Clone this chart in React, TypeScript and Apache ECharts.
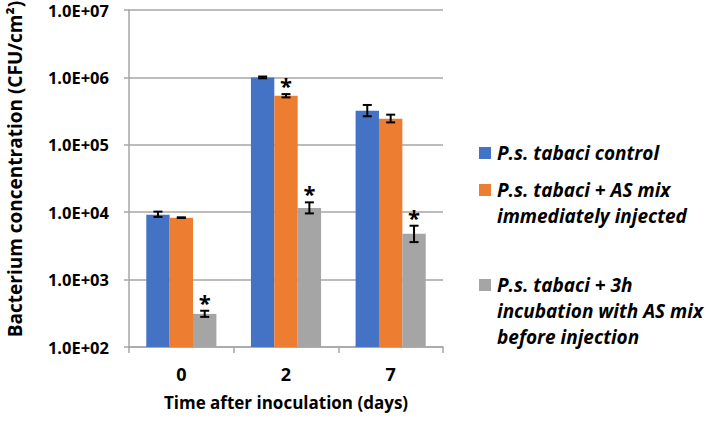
import React, { useEffect, useRef } from "react";
import * as echarts from "echarts";

const categories = ["0", "2", "7"];
const seriesNames = [
  "P.s. tabaci control",
  "P.s. tabaci + AS mix\nimmediately injected",
  "P.s. tabaci + 3h\nincubation with AS mix\nbefore injection",
];
const seriesColors = ["#4472C4", "#ED7D31", "#A5A5A5"];
const yAxisTitle = "Bacterium concentration (CFU/cm²)";
const xAxisTitle = "Time after inoculation (days)";

const controlValues = [9200, 1000000, 320000];
const controlLow = [8500, 970000, 265000];
const controlHigh = [10200, 1030000, 390000];
const controlStar = [0, 0, 0];

const asMixValues = [8300, 535000, 244000];
const asMixLow = [8200, 505000, 215000];
const asMixHigh = [8400, 565000, 280000];
const asMixStar = [0, 1, 0];

const incubValues = [310, 11500, 4800];
const incubLow = [280, 9600, 3600];
const incubHigh = [345, 14000, 6300];
const incubStar = [1, 1, 1];

const FONT = "Open Sans";

export default function App() {
  const ref = useRef<HTMLDivElement>(null);
  useEffect(() => {
    if (!ref.current) return;
    const chart = echarts.init(ref.current, undefined, { renderer: "svg" });
    const values = [controlValues, asMixValues, incubValues];
    const lows = [controlLow, asMixLow, incubLow];
    const highs = [controlHigh, asMixHigh, incubHigh];
    const stars = [controlStar, asMixStar, incubStar];
    const errData: number[][] = [];
    for (let s = 0; s < 3; s++) {
      for (let c = 0; c < categories.length; c++) {
        errData.push([c, s, lows[s][c], highs[s][c], stars[s][c]]);
      }
    }
    const gapFrac = 0.33;
    const legendX = 479;
    const legendTextX = 497;
    const lineH = 26;
    const legendStarts = [153, 190, 285];
    const graphics: any[] = [
      {
        type: "text",
        x: 15,
        y: 169,
        rotation: Math.PI / 2,
        style: {
          text: yAxisTitle,
          fontFamily: FONT,
          fontSize: 19,
          fontWeight: "bold",
          fill: "#000",
          align: "center",
          verticalAlign: "middle",
        },
      },
    ];
    seriesNames.forEach((name, i) => {
      const y0 = legendStarts[i];
      graphics.push({
        type: "rect",
        shape: { x: legendX, y: y0 - 6, width: 12, height: 12 },
        style: { fill: seriesColors[i] },
      });
      graphics.push({
        type: "text",
        x: legendTextX,
        y: y0 - lineH / 2,
        style: {
          text: name,
          fontFamily: FONT,
          fontSize: 19,
          fontWeight: "bold",
          fontStyle: "italic",
          fill: "#000",
          lineHeight: lineH,
          verticalAlign: "top",
          align: "left",
        },
      });
    });

    chart.setOption({
      animation: false,
      grid: { left: 129, right: 266, top: 10, bottom: 74 },
      xAxis: {
        type: "category",
        data: categories,
        name: xAxisTitle,
        nameLocation: "middle",
        nameGap: 47,
        nameTextStyle: { fontFamily: FONT, fontSize: 17, fontWeight: "bold", color: "#000" },
        axisLine: { lineStyle: { color: "#A6A6A6", width: 1.5 } },
        axisTick: { show: true, length: 6, lineStyle: { color: "#A6A6A6", width: 1.5 } },
        axisLabel: { fontFamily: FONT, fontSize: 18, fontWeight: "bold", color: "#000", margin: 18 },
      },
      yAxis: {
        type: "log",
        logBase: 10,
        min: 100,
        max: 10000000,
        axisLine: { show: true, lineStyle: { color: "#A6A6A6", width: 1.5 } },
        axisTick: { show: true, length: 5, lineStyle: { color: "#A6A6A6", width: 1.5 } },
        splitLine: { show: true, lineStyle: { color: "#A6A6A6", width: 1.5 } },
        minorTick: { show: false },
        axisLabel: {
          fontFamily: FONT,
          fontSize: 16.5,
          lineHeight: 16,
          fontWeight: "bold",
          color: "#000",
          margin: 20,
          formatter: (v: number) => {
            const e = Math.round(Math.log10(v));
            return "1.0E+" + String(e).padStart(2, "0");
          },
        },
      },
      series: [
        ...values.map((vals, i) => ({
          type: "bar",
          name: seriesNames[i],
          data: vals,
          barGap: "0%",
          barCategoryGap: "33%",
          itemStyle: { color: seriesColors[i] },
        })),
        {
          type: "custom",
          data: errData,
          encode: { x: 0, y: [2, 3] },
          z: 10,
          renderItem: (params: any, api: any) => {
            const cat = api.value(0);
            const s = api.value(1);
            const lo = api.value(2);
            const hi = api.value(3);
            const star = api.value(4);
            const a = api.coord([0, 1000]);
            const b = api.coord([1, 1000]);
            const band = b[0] - a[0];
            const bw = (band * (1 - gapFrac)) / 3;
            const pHi = api.coord([cat, hi]);
            const pLo = api.coord([cat, lo]);
            const cx = pHi[0] + (s - 1) * bw;
            const cap = 4.5;
            const st = { stroke: "#000", lineWidth: 2 };
            const children: any[] = [
              { type: "line", shape: { x1: cx, y1: pHi[1], x2: cx, y2: pLo[1] }, style: st },
              { type: "line", shape: { x1: cx - cap, y1: pHi[1], x2: cx + cap, y2: pHi[1] }, style: st },
              { type: "line", shape: { x1: cx - cap, y1: pLo[1], x2: cx + cap, y2: pLo[1] }, style: st },
            ];
            if (star) {
              children.push({
                type: "text",
                x: cx,
                y: pHi[1] + 2,
                style: {
                  text: "*",
                  fontFamily: FONT,
                  fontSize: 22,
                  fontWeight: "bold",
                  fill: "#000",
                  align: "center",
                  verticalAlign: "bottom",
                },
              });
            }
            return { type: "group", children };
          },
        },
      ],
      graphic: graphics,
    });
    return () => chart.dispose();
  }, []);
  return (
    <div
      ref={ref}
      style={{ position: "absolute", left: 0, top: 0, width: 709, height: 421 }}
    />
  );
}
